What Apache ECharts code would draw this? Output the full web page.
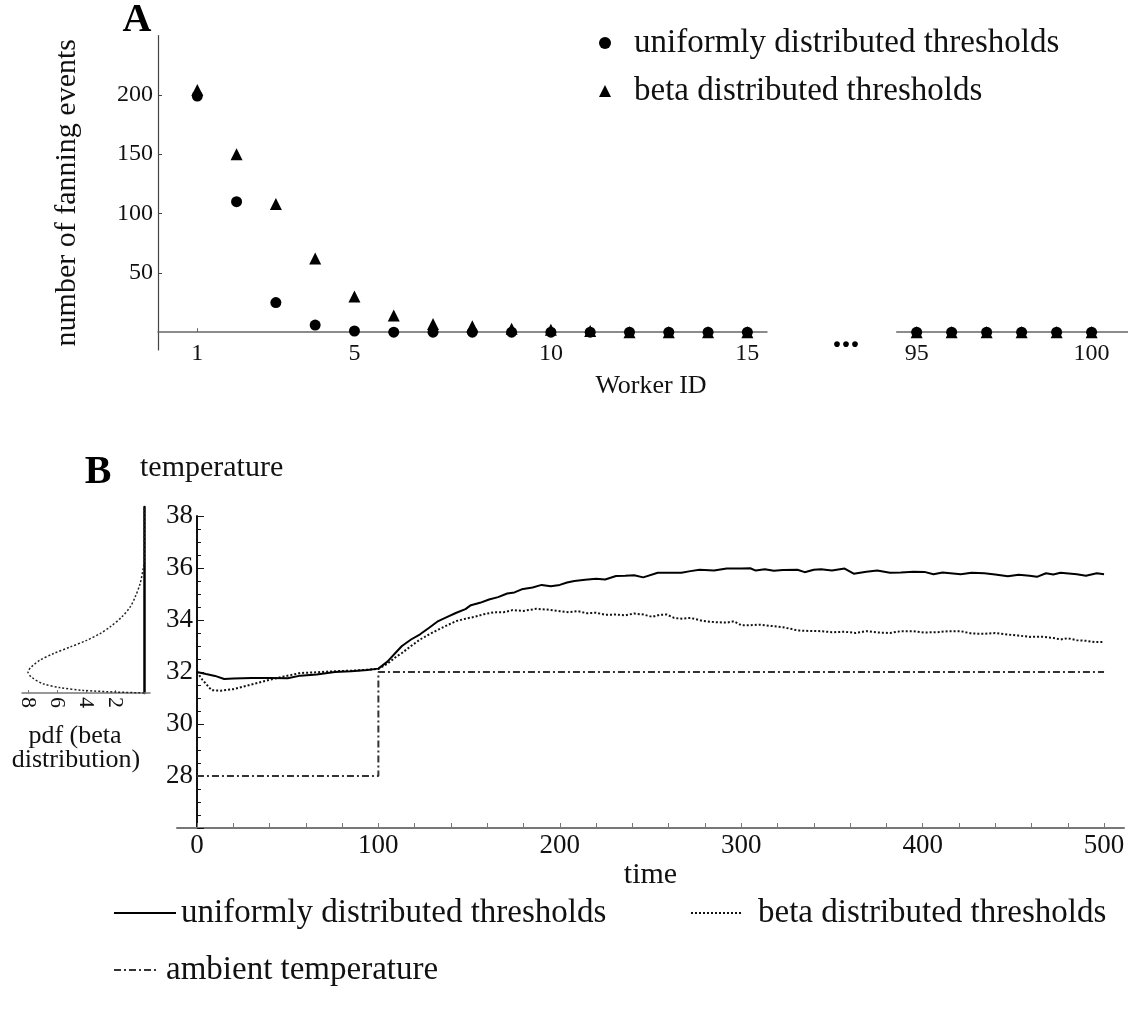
<!DOCTYPE html>
<html>
<head>
<meta charset="utf-8">
<script src="https://cdn.jsdelivr.net/npm/echarts@6/dist/echarts.min.js"></script>
<style>html,body{margin:0;padding:0;background:#fff;}#c{width:1128px;height:1031px;}</style>
</head>
<body>
<div id="c"></div>
<script>
// ---------- Panel A data ----------
const workersA1 = [1, 2, 3, 4, 5, 6, 7, 8, 9, 10, 11, 12, 13, 14, 15];
const uniformA1 = [199, 110, 25, 6, 1, 0, 0, 0, 0, 0, 0, 0, 0, 0, 0];
const betaA1 = [204, 150, 108, 62, 30, 14, 7, 5, 3, 2, 1, 0, 0, 0, 0];
const workersA2 = [95, 96, 97, 98, 99, 100];
const uniformA2 = [0, 0, 0, 0, 0, 0];
const betaA2 = [0, 0, 0, 0, 0, 0];
const ticksA1 = [1, 5, 10, 15];
const ticksA2 = [95, 100];
const ticksAY = [50, 100, 150, 200];

// ---------- Panel B data ----------
const timeUniform = [0,5,10,15,20,30,40,50,57,66,76,85,94,100,105,110,113,118,123,128,133,138,143,148,151,156,161,166,171,175,179,185,190,195,200,204,208,214,220,225,231,236,241,246,254,260,267,272,277,285,292,300,305,308,313,318,323,331,335,340,344,350,357,362,369,375,382,388,395,401,406,411,421,427,434,440,447,453,459,463,468,472,476,485,490,496,500];
const tempUniform = [32.00,31.92,31.85,31.73,31.75,31.77,31.77,31.76,31.86,31.90,32.00,32.03,32.08,32.13,32.40,32.78,33.00,33.25,33.45,33.70,33.96,34.12,34.28,34.42,34.57,34.66,34.79,34.88,35.02,35.06,35.18,35.25,35.35,35.30,35.35,35.44,35.50,35.55,35.59,35.56,35.69,35.70,35.72,35.64,35.82,35.82,35.82,35.88,35.93,35.90,35.98,35.98,35.99,35.90,35.95,35.89,35.92,35.93,35.84,35.93,35.95,35.90,35.98,35.78,35.86,35.90,35.82,35.83,35.86,35.85,35.76,35.83,35.76,35.82,35.80,35.75,35.68,35.74,35.70,35.66,35.80,35.75,35.82,35.76,35.70,35.80,35.76];
const timeBeta = [0,3,8,13,20,29,39,48,57,66,76,85,94,100,105,110,113,118,123,128,133,138,143,148,153,158,164,169,174,180,187,193,200,205,210,215,220,225,231,236,241,246,251,255,259,263,267,272,279,285,292,296,300,305,310,318,323,328,331,337,344,350,357,363,369,375,382,388,395,401,408,414,421,427,434,440,447,453,459,466,472,476,480,485,490,495,500];
const tempBeta = [32.00,31.70,31.30,31.28,31.34,31.50,31.68,31.83,31.96,31.99,32.03,32.05,32.09,32.12,32.32,32.60,32.73,33.00,33.25,33.45,33.63,33.80,33.96,34.05,34.12,34.22,34.30,34.30,34.38,34.35,34.43,34.40,34.34,34.30,34.34,34.26,34.28,34.20,34.21,34.18,34.25,34.21,34.12,34.20,34.21,34.08,34.05,34.08,33.96,33.92,33.90,33.95,33.80,33.80,33.82,33.76,33.72,33.65,33.60,33.58,33.57,33.53,33.55,33.50,33.57,33.52,33.50,33.57,33.57,33.52,33.53,33.57,33.57,33.48,33.47,33.50,33.44,33.40,33.35,33.36,33.31,33.25,33.30,33.22,33.20,33.15,33.16];
const timeAmbient = [0, 100, 100, 500];
const tempAmbient = [28, 28, 32, 32];
const timeLabels = [0, 100, 200, 300, 400, 500];
const timeTicks = [0,20,40,60,80,100,120,140,160,180,200,220,240,260,280,300,320,340,360,380,400,420,440,460,480,500];

// beta pdf (rotated inset): threshold position (0..1, bottom to top) and pdf value
const pdfThreshold = [0, 0.005, 0.014, 0.029, 0.05, 0.086, 0.113, 0.14, 0.176, 0.211, 0.247, 0.283, 0.319, 0.355, 0.409, 0.462, 0.516, 0.588, 0.66, 0.713, 0.85, 1.0];
const pdfValue = [0, 1.89, 4.2, 5.8, 6.96, 7.76, 7.99, 7.76, 7.18, 6.26, 5.1, 3.96, 3.04, 2.35, 1.54, 0.97, 0.62, 0.28, 0.09, 0, 0, 0];
const pdfTicks = [2, 4, 6, 8];

const names = {
  u: 'uniformly distributed thresholds',
  b: 'beta distributed thresholds',
  a: 'ambient temperature'
};
const FONT = '"Liberation Serif", "DejaVu Serif", serif';
const zip = (xs, ys) => xs.map((x, i) => [x, ys[i]]);

const chart = echarts.init(document.getElementById('c'), null, {renderer: 'canvas'});

const lineLegend = (left, top, width, name, pad) => ({
  left: left, top: top, padding: 0, itemWidth: width, itemHeight: 14,
  data: ['B: ' + name], selectedMode: false,
  formatter: n => n.replace(/^B: /, ''),
  itemStyle: {opacity: 0},
  textStyle: {fontSize: 33, lineHeight: 36, color: '#111', fontFamily: FONT, padding: [0, 0, 0, pad]}
});

const option = {
  animation: false,
  backgroundColor: '#fff',
  textStyle: {fontFamily: FONT, color: '#111'},
  grid: [
    {left: 158, top: 35.5, width: 609, height: 314.5},
    {left: 896.7, top: 35.5, width: 231.3, height: 314.5},
    {left: 177, top: 516, width: 947, height: 312},
    {left: 22, top: 507, width: 128, height: 186}
  ],
  xAxis: [
    {gridIndex: 0, type: 'value', min: 0, max: 15.5,
     axisLine: {onZero: true, lineStyle: {color: '#666', width: 1.5}},
     axisTick: {show: true, inside: true, length: 4, customValues: ticksA1, lineStyle: {color: '#666'}},
     axisLabel: {customValues: ticksA1, fontSize: 24, margin: -8, color: '#111', fontFamily: FONT},
     splitLine: {show: false}},
    {gridIndex: 1, type: 'value', min: 94.43, max: 101.04,
     axisLine: {onZero: true, lineStyle: {color: '#666', width: 1.5}},
     axisTick: {show: true, inside: true, length: 4, customValues: ticksA2, lineStyle: {color: '#666'}},
     axisLabel: {customValues: ticksA2, fontSize: 24, margin: -8, color: '#111', fontFamily: FONT},
     splitLine: {show: false}},
    {gridIndex: 2, type: 'value', min: -11, max: 511,
     axisLine: {onZero: false, lineStyle: {color: '#777', width: 2}},
     axisTick: {show: true, inside: true, length: 5, customValues: timeTicks, lineStyle: {color: '#777'}},
     axisLabel: {customValues: timeLabels, fontSize: 27, margin: 4, color: '#111', fontFamily: FONT},
     name: 'time', nameLocation: 'middle', nameGap: 30,
     nameTextStyle: {fontSize: 30, color: '#111', fontFamily: FONT},
     splitLine: {show: false}},
    {gridIndex: 3, type: 'value', inverse: true, min: -0.4, max: 8.4,
     axisLine: {onZero: true, lineStyle: {color: '#777', width: 1.5}},
     axisTick: {show: true, inside: true, length: 3, customValues: pdfTicks, lineStyle: {color: '#777'}},
     axisLabel: {customValues: pdfTicks, fontSize: 22, margin: 4, rotate: -90, color: '#111', fontFamily: FONT},
     splitLine: {show: false}}
  ],
  yAxis: [
    {gridIndex: 0, type: 'value', min: -15, max: 250,
     axisLine: {show: true, onZero: false, lineStyle: {color: '#444', width: 1.2}},
     axisTick: {show: true, inside: true, length: 4, customValues: ticksAY, lineStyle: {color: '#444'}},
     axisLabel: {customValues: ticksAY, fontSize: 24, margin: 5, color: '#111', fontFamily: FONT},
     name: 'number of fanning events', nameLocation: 'middle', nameGap: 76,
     nameTextStyle: {fontSize: 30, color: '#111', fontFamily: FONT},
     splitLine: {show: false}},
    {gridIndex: 1, type: 'value', min: -15, max: 250, show: false, splitLine: {show: false}},
    {gridIndex: 2, type: 'value', min: 26, max: 38, interval: 2,
     axisLine: {show: true, onZero: true, lineStyle: {color: '#111', width: 2}},
     axisTick: {show: true, inside: true, length: 7, lineStyle: {color: '#111'}},
     minorTick: {show: true, splitNumber: 4, length: 4, lineStyle: {color: '#111'}},
     axisLabel: {fontSize: 27, margin: -16, color: '#111', fontFamily: FONT,
       formatter: v => (v === 26 ? '' : String(v))},
     splitLine: {show: false}, minorSplitLine: {show: false}},
    {gridIndex: 3, type: 'value', min: 0, max: 1,
     axisLine: {show: true, onZero: true, lineStyle: {color: '#000', width: 2.5}},
     axisTick: {show: false}, axisLabel: {show: false}, splitLine: {show: false}}
  ],
  legend: [
    {orient: 'vertical', left: 599, top: 25, padding: 0, itemWidth: 12, itemHeight: 12, itemGap: 12,
     data: [names.u, names.b], selectedMode: false,
     textStyle: {fontSize: 33, lineHeight: 36, color: '#111', fontFamily: FONT, padding: [0, 0, 0, 18]}},
    lineLegend(113, 895, 62, names.u, 0),
    lineLegend(690, 895, 52, names.b, 10),
    lineLegend(113, 952, 44, names.a, 3)
  ],
  graphic: [
    {type: 'text', style: {x: 137, y: 21, text: 'A', font: 'bold 40px ' + FONT, fill: '#000', textAlign: 'center', textVerticalAlign: 'middle'}},
    {type: 'text', style: {x: 651, y: 386, text: 'Worker ID', font: '26px ' + FONT, fill: '#111', textAlign: 'center', textVerticalAlign: 'middle'}},
    {type: 'text', style: {x: 846, y: 338, text: '...', font: 'bold 36px ' + FONT, fill: '#000', textAlign: 'center', textVerticalAlign: 'middle'}},
    {type: 'text', style: {x: 98, y: 473, text: 'B', font: 'bold 40px ' + FONT, fill: '#000', textAlign: 'center', textVerticalAlign: 'middle'}},
    {type: 'text', style: {x: 140, y: 468, text: 'temperature', font: '30px ' + FONT, fill: '#111', textAlign: 'left', textVerticalAlign: 'middle'}},
    {type: 'text', style: {x: 75, y: 736, text: 'pdf (beta', font: '26px ' + FONT, fill: '#111', textAlign: 'center', textVerticalAlign: 'middle'}},
    {type: 'text', style: {x: 76, y: 760, text: 'distribution)', font: '26px ' + FONT, fill: '#111', textAlign: 'center', textVerticalAlign: 'middle'}}
  ],
  series: [
    {name: names.b, type: 'scatter', xAxisIndex: 0, yAxisIndex: 0, symbol: 'triangle', symbolSize: 12,
     itemStyle: {color: '#000', opacity: 1}, data: zip(workersA1, betaA1)},
    {name: names.u, type: 'scatter', xAxisIndex: 0, yAxisIndex: 0, symbol: 'circle', symbolSize: 11,
     itemStyle: {color: '#000', opacity: 1}, data: zip(workersA1, uniformA1)},
    {name: names.b, type: 'scatter', xAxisIndex: 1, yAxisIndex: 1, symbol: 'triangle', symbolSize: 12,
     itemStyle: {color: '#000', opacity: 1}, data: zip(workersA2, betaA2)},
    {name: names.u, type: 'scatter', xAxisIndex: 1, yAxisIndex: 1, symbol: 'circle', symbolSize: 11,
     itemStyle: {color: '#000', opacity: 1}, data: zip(workersA2, uniformA2)},
    {name: 'B: ' + names.a, type: 'line', xAxisIndex: 2, yAxisIndex: 2, symbol: 'none',
     itemStyle: {color: '#333'},
     lineStyle: {color: '#333', width: 2, type: [7, 3, 2, 3]}, data: zip(timeAmbient, tempAmbient)},
    {name: 'B: ' + names.b, type: 'line', xAxisIndex: 2, yAxisIndex: 2, symbol: 'none',
     itemStyle: {color: '#111'},
     lineStyle: {color: '#111', width: 2, type: [2, 2]}, data: zip(timeBeta, tempBeta)},
    {name: 'B: ' + names.u, type: 'line', xAxisIndex: 2, yAxisIndex: 2, symbol: 'none',
     itemStyle: {color: '#000'},
     lineStyle: {color: '#000', width: 2, type: 'solid'}, data: zip(timeUniform, tempUniform)},
    {name: 'pdf', type: 'line', xAxisIndex: 3, yAxisIndex: 3, symbol: 'none', smooth: 0.3,
     itemStyle: {color: '#222'},
     lineStyle: {color: '#222', width: 1.5, type: [2, 2]}, data: zip(pdfValue, pdfThreshold)}
  ]
};
chart.setOption(option);
</script>
</body>
</html>
